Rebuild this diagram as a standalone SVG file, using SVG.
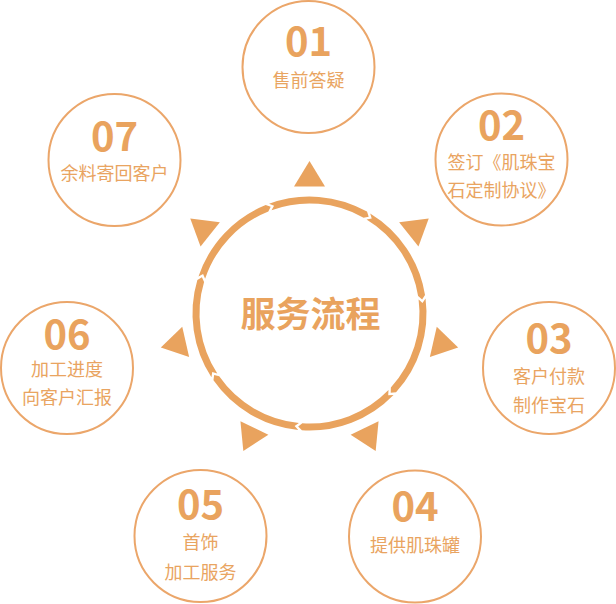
<svg xmlns="http://www.w3.org/2000/svg" xmlns:xlink="http://www.w3.org/1999/xlink" width="616" height="604" viewBox="0 0 616 604">
<style>
.node circle{fill:#ffffff;stroke:#EBA66A;stroke-width:2}
.num{font-family:"Noto Sans CJK SC","Noto Sans",sans-serif;font-weight:700;font-size:40px;fill:#E9A35E;text-anchor:middle}
.lbl{font-family:"Noto Sans CJK SC","Noto Sans",sans-serif;font-size:18px;fill:#E9A461;text-anchor:middle}
.title{font-family:"Noto Sans CJK SC","Noto Sans",sans-serif;font-weight:700;font-size:35px;fill:#E9A35E;text-anchor:middle}
.ring{fill:#E9A35E}
</style>
<defs>
<path id="seg" d="M116.99,1.838 A117,117 0 0 1 74.374,90.319 L69.047,90.082 L69.924,84.915 A110,110 0 0 0 109.99,1.728 L113.355,5.742 Z"/>
<polygon id="tri" points="0,-152.5 15.5,-127 -15.5,-127"/>
</defs>
<rect width="616" height="604" fill="#ffffff"/>
<g id="connectors" class="ring">
<g transform="translate(309.5,313.5)">
<use xlink:href="#seg" href="#seg" transform="rotate(43.2)"/>
<use xlink:href="#seg" href="#seg" transform="rotate(94.63)"/>
<use xlink:href="#seg" href="#seg" transform="rotate(146.06)"/>
<use xlink:href="#seg" href="#seg" transform="rotate(197.49)"/>
<use xlink:href="#seg" href="#seg" transform="rotate(248.91)"/>
<use xlink:href="#seg" href="#seg" transform="rotate(300.34)"/>
<use xlink:href="#seg" href="#seg" transform="rotate(351.77)"/>
<use xlink:href="#tri" href="#tri" transform="rotate(0)"/>
<use xlink:href="#tri" href="#tri" transform="rotate(51.43)"/>
<use xlink:href="#tri" href="#tri" transform="rotate(102.86)"/>
<use xlink:href="#tri" href="#tri" transform="rotate(154.29)"/>
<use xlink:href="#tri" href="#tri" transform="rotate(205.71)"/>
<use xlink:href="#tri" href="#tri" transform="rotate(257.14)"/>
<use xlink:href="#tri" href="#tri" transform="rotate(308.57)"/>
</g>
</g>
<g id="center">
<text class="title" x="310.5" y="327">服务流程</text>
</g>
<g id="node01" class="node">
<circle cx="308.5" cy="67" r="66"/>
<text class="num" x="308.5" y="56">01</text>
<text class="lbl" x="308.5" y="87">售前答疑</text>
</g>
<g id="node02" class="node">
<circle cx="501.5" cy="159.5" r="66"/>
<text class="num" x="501.5" y="140">02</text>
<text class="lbl" x="501.5" y="169">签订《肌珠宝</text>
<text class="lbl" x="501.5" y="197">石定制协议》</text>
</g>
<g id="node03" class="node">
<circle cx="549" cy="368" r="66"/>
<text class="num" x="549" y="353">03</text>
<text class="lbl" x="549" y="383">客户付款</text>
<text class="lbl" x="549" y="412">制作宝石</text>
</g>
<g id="node04" class="node">
<circle cx="415" cy="536.5" r="66"/>
<text class="num" x="415" y="521">04</text>
<text class="lbl" x="415" y="552">提供肌珠罐</text>
</g>
<g id="node05" class="node">
<circle cx="200.5" cy="536" r="66"/>
<text class="num" x="200.5" y="519">05</text>
<text class="lbl" x="200.5" y="549">首饰</text>
<text class="lbl" x="200.5" y="578.5">加工服务</text>
</g>
<g id="node06" class="node">
<circle cx="67" cy="368" r="66"/>
<text class="num" x="67" y="349">06</text>
<text class="lbl" x="67" y="376">加工进度</text>
<text class="lbl" x="67" y="404">向客户汇报</text>
</g>
<g id="node07" class="node">
<circle cx="114.5" cy="160" r="66"/>
<text class="num" x="114.5" y="151">07</text>
<text class="lbl" x="114.5" y="180">余料寄回客户</text>
</g>
</svg>
